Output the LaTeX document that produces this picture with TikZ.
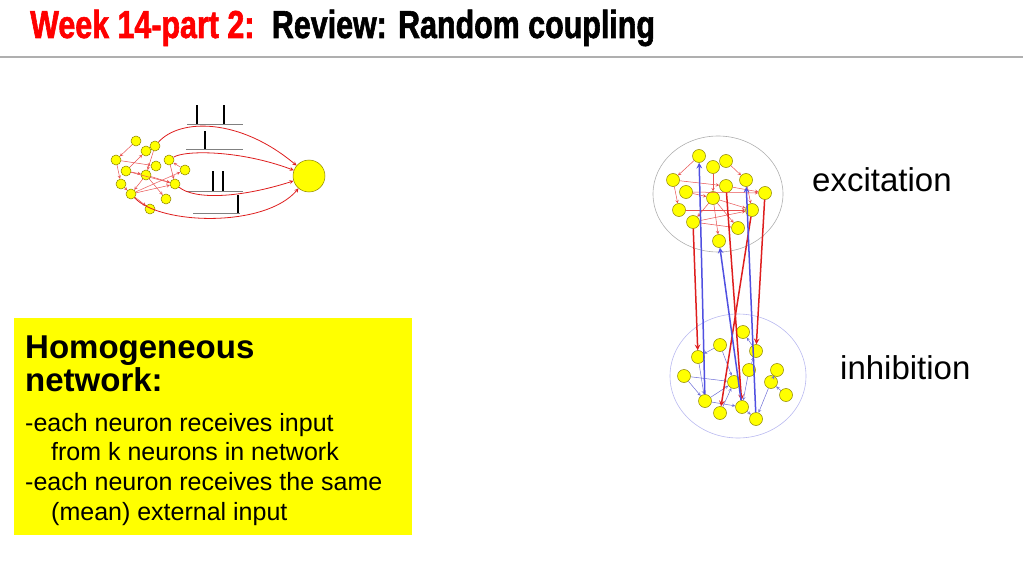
\documentclass[tikz,border=0pt]{standalone}
\usepackage{fontspec}
\setmainfont{Liberation Sans}
\newfontfamily\titlefont{Liberation Sans}[FakeStretch=0.78,FakeBold=1.5]
\usepackage{tikz}
\usetikzlibrary{arrows,shapes,positioning}
\usepackage{xcolor}
\definecolor{nwyellow}{RGB}{255,255,0}
\definecolor{nwolive}{RGB}{140,130,0}
\definecolor{nwred}{RGB}{222,30,30}
\definecolor{nwpink}{RGB}{232,80,80}
\definecolor{nwblue}{RGB}{80,80,225}
\definecolor{nwlightblue}{RGB}{110,110,215}
\definecolor{nwgrey}{RGB}{175,175,175}
\definecolor{nwlavender}{RGB}{185,185,240}
\definecolor{nwtitlered}{RGB}{255,0,0}
\tikzstyle{titletext} = [font=\titlefont\bfseries\fontsize{39}{39}\selectfont, inner sep=0pt]
\tikzstyle{headline} = [line width=2.5pt, color=nwgrey]
\tikzstyle{notebox} = [rectangle, fill=nwyellow, minimum width=398pt, minimum height=217pt, text width=376pt, inner xsep=11pt, inner ysep=0pt, align=left]
\tikzstyle{poptext} = [font=\fontsize{33}{33}\selectfont, inner sep=0pt]
\tikzstyle{neuron} = [circle, draw=nwolive, fill=nwyellow, line width=0.5pt, inner sep=0pt, minimum size=10pt]
\tikzstyle{bigneuron} = [neuron, minimum size=13pt]
\tikzstyle{pool} = [ellipse, inner sep=0pt, line width=0.6pt]
\tikzstyle{link} = [->,>=stealth, line width=0.5pt, color=nwpink]
\tikzstyle{inhlink} = [->,>=stealth, line width=0.5pt, color=nwlightblue]
\tikzstyle{input} = [->,>=stealth, line width=0.8pt, color=nwred]
\tikzstyle{excarrow} = [->,>=stealth, line width=1.5pt, color=nwred]
\tikzstyle{inharrow} = [->,>=stealth, line width=1.5pt, color=nwblue]
\tikzstyle{train} = [line width=0.6pt, color=gray]
\tikzstyle{spike} = [line width=2.5pt, color=black]

\begin{document}
\begin{tikzpicture}[x=1pt, y=-1pt]
\useasboundingbox (0,0) rectangle (1023,575);

% Title
\node (week) [titletext, text=nwtitlered, anchor=base west] at (30,38) {Week 14-part 2:};
\node (topic) [titletext, right=17pt of week.base east, anchor=base west] {Review: Random coupling};
\draw[headline] (0,57) -- (1023,57);

% Left network
\foreach \n/\x/\y in {1/136/141, 2/146/151, 3/155/146, 4/116/160, 5/169/160, 6/126/171, 7/156/166,
  8/185/170, 9/146/175, 10/121/184, 11/175/184, 12/131/194, 13/166/199, 14/150/209}
  \node[neuron] (l\n) at (\x,\y) {};
\node (post) [neuron, minimum size=32pt] at (309,176) {};
\foreach \a/\b in {1/4, 4/7, 6/2, 3/9, 5/11, 6/11, 9/12, 9/13, 9/11, 10/12, 4/10, 12/8, 12/14, 12/11, 8/5, 6/9}
  \draw[link] (l\a) -- (l\b);

% Spike trains
\draw[train] (187,124) -- (243,124);
\draw[spike] (197,124) -- (197,105);
\draw[spike] (224,124) -- (224,105);
\draw[train] (186,149) -- (243,149);
\draw[spike] (205,149) -- (205,131);
\draw[train] (186,191) -- (243,191);
\draw[spike] (213,191) -- (213,171);
\draw[spike] (223,191) -- (223,171);
\draw[train] (193,213) -- (240,213);
\draw[spike] (238,213) -- (238,195);

% Inputs
\draw[input] (l3) .. controls (180,118) and (240,118) .. (post);
\draw[input] (l5) .. controls (185,150) and (240,150) .. (post);
\draw[input] (l11) .. controls (195,200) and (240,198) .. (post);
\draw[input] (l12) .. controls (160,225) and (265,228) .. (post);

% Box
\node (homog) [notebox, anchor=north west] at (14,318) {%
{\fontsize{33}{33}\selectfont\bfseries\spaceskip=0pt\rule{0pt}{30pt}Homogeneous\\ network:\par}
\vspace{10.3pt}
{\fontsize{25}{29.7}\selectfont\spaceskip=0pt\xspaceskip=0pt -each neuron receives input\\ \hspace*{26pt}from k neurons in network\\ -each neuron receives the same\\ \hspace*{26pt}(mean) external input\par}};

% Populations
\node (excpool) [pool, draw=nwgrey, minimum width=130pt, minimum height=116pt] at (718,194) {};
\node (inhpool) [pool, draw=nwlavender, minimum width=136pt, minimum height=124pt] at (738,376) {};
\node (exclabel) [poptext, anchor=base west] at (812,192) {excitation};
\node (inhlabel) [poptext, anchor=base west] at (840,379) {inhibition};

\foreach \n/\x/\y in {1/699/156, 2/713/167, 3/726/161, 4/673/180, 5/726/186, 6/746/180, 7/686/192,
  8/765/193, 9/713/198, 10/679/210, 11/752/210, 12/693/222, 13/738/228, 14/719/241}
  \node[bigneuron] (e\n) at (\x,\y) {};
\foreach \n/\x/\y in {1/743/332, 2/720/345, 3/756/351, 4/698/357, 5/684/376, 6/749/370, 7/777/370,
  8/734/382, 9/771/382, 10/786/395, 11/705/401, 12/742/407, 13/720/413, 14/756/419}
  \node[bigneuron] (i\n) at (\x,\y) {};

\foreach \a/\b in {1/4, 4/10, 4/5, 7/8, 7/9, 9/12, 9/14, 9/13, 9/11, 10/11, 12/11, 3/6, 6/11, 2/9, 12/13, 5/8}
  \draw[link] (e\a) -- (e\b);
\foreach \a/\b in {2/4, 2/8, 5/8, 5/11, 11/8, 11/12, 6/12, 12/14, 9/14, 7/9, 3/1, 13/8, 6/3, 10/9, 4/11}
  \draw[inhlink] (i\a) -- (i\b);

% Arrows
\draw[excarrow] (e12) -- (i4);
\draw[excarrow] (e5) -- (i12);
\draw[excarrow] (e8) -- (i3);
\draw[excarrow] (e11) -- (i13);
\draw[inharrow] (i11) -- (e1);
\draw[inharrow] (i12) -- (e14);
\draw[inharrow] (i14) -- (e6);
\end{tikzpicture}
\end{document}
